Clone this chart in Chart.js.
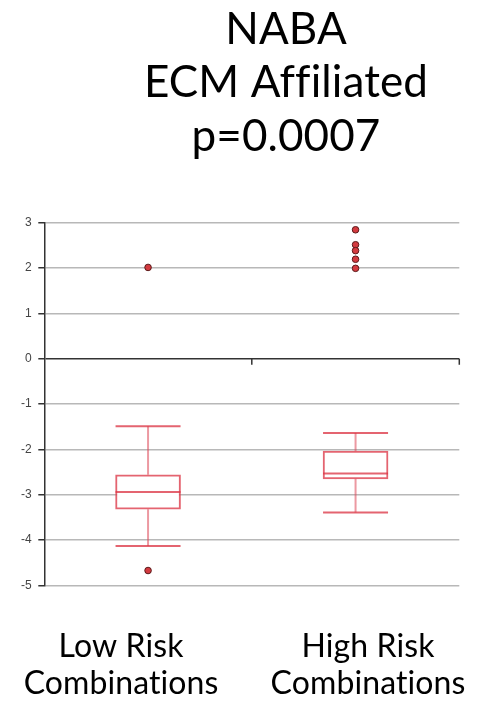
<!DOCTYPE html>
<html>
<head>
<meta charset="utf-8">
<script src="https://cdn.jsdelivr.net/npm/chart.js@4.4.1/dist/chart.umd.min.js"></script>
<style>
  html, body { margin: 0; padding: 0; background: #fff; }
  #wrap { width: 480px; height: 710px; }
</style>
</head>
<body>
<div id="wrap"><canvas id="chart"></canvas></div>
<script>
// data
const titleLines = ['NABA', 'ECM Affiliated', 'p=0.0007'];
const groupLabels = [['Low Risk', 'Combinations'], ['High Risk', 'Combinations']];
const groupPos = [0.5, 1.5];
const whiskerLow = [-4.13, -3.39];
const q1 = [-3.32, -2.65];
const median = [-2.94, -2.53];
const q3 = [-2.56, -2.04];
const whiskerHigh = [-1.49, -1.64];
const outliersLow = [2.01, -4.67];
const outliersHigh = [2.84, 2.51, 2.38, 2.19, 1.99];
const yMin = -5;
const yMax = 3;

// layout bits (text boxes in the original sit a bit off the box centres)
const labelPos = [0.37, 1.56];
const titleCenter = 286;
const boxWidth = 65;

const outlierPoints = [
    ...outliersLow.map(v => ({ x: groupPos[0], y: v })),
    ...outliersHigh.map(v => ({ x: groupPos[1], y: v }))
];

// whiskers, caps, median and the category ticks on the zero line
const boxPlugin = {
    id: 'boxWhiskers',
    beforeDraw(chart) {
        // no ti / ffi ligatures, like the slide text
        chart.ctx.letterSpacing = '0.1px';
        chart.ctx.textRendering = 'optimizeSpeed';
    },
    afterLayout(chart) {
        // move the title block so its centre lands where the slide had it
        const t = chart.titleBlock;
        const shift = titleCenter - (t.left + t.right) / 2;
        t.left += shift;
        t.right += shift;
    },
    afterDatasetsDraw(chart) {
        const { ctx, scales: { x, y } } = chart;
        const half = boxWidth / 2;
        ctx.save();
        groupPos.forEach((g, i) => {
            const px = x.getPixelForValue(g);
            // stems
            ctx.strokeStyle = 'rgba(221, 70, 85, 0.55)';
            ctx.lineWidth = 2;
            ctx.beginPath();
            ctx.moveTo(px, y.getPixelForValue(q3[i]));
            ctx.lineTo(px, y.getPixelForValue(whiskerHigh[i]));
            ctx.moveTo(px, y.getPixelForValue(q1[i]));
            ctx.lineTo(px, y.getPixelForValue(whiskerLow[i]));
            ctx.stroke();
            // caps + median
            ctx.strokeStyle = 'rgba(221, 56, 72, 0.78)';
            ctx.beginPath();
            [whiskerHigh[i], whiskerLow[i], median[i]].forEach(v => {
                const py = y.getPixelForValue(v);
                ctx.moveTo(px - half, py);
                ctx.lineTo(px + half, py);
            });
            ctx.stroke();
        });
        // category separators hanging off the zero line
        const y0 = y.getPixelForValue(0);
        ctx.strokeStyle = '#333';
        ctx.lineWidth = 1.5;
        ctx.beginPath();
        [1, 2].forEach(v => {
            const px = x.getPixelForValue(v);
            ctx.moveTo(px, y0);
            ctx.lineTo(px, y0 + 6);
        });
        ctx.stroke();
        ctx.restore();
    }
};

const ctx = document.getElementById('chart').getContext('2d');
new Chart(ctx, {
    type: 'bar',
    data: {
        datasets: [
            {
                type: 'bar',
                data: groupPos.map((g, i) => ({ x: g, y: [q1[i], q3[i]] })),
                backgroundColor: '#ffffff',
                borderColor: 'rgba(221, 56, 72, 0.78)',
                borderWidth: 2,
                borderSkipped: false,
                barThickness: boxWidth
            },
            {
                type: 'scatter',
                data: outlierPoints,
                pointRadius: 3.3,
                pointBackgroundColor: '#d33a3f',
                pointBorderColor: '#5a1a1a',
                pointBorderWidth: 1
            }
        ]
    },
    options: {
        responsive: true,
        maintainAspectRatio: false,
        animation: false,
        layout: {
            padding: { left: 0, right: 20.7, top: 0, bottom: 7.3 }
        },
        plugins: {
            legend: { display: false },
            tooltip: { enabled: false },
            title: {
                display: true,
                text: titleLines,
                color: '#000',
                font: { family: 'Lato', size: 44, weight: 'normal', lineHeight: 1.216 },
                padding: { top: 3, bottom: 59 }
            }
        },
        scales: {
            x: {
                type: 'linear',
                min: 0,
                max: 2,
                offset: false,
                grid: { display: false, drawTicks: false },
                border: { display: false },
                afterBuildTicks: scale => {
                    scale.ticks = labelPos.map(v => ({ value: v }));
                },
                afterFit: scale => {
                    scale.height = 117.2;
                    scale.paddingLeft = 0;
                    scale.paddingRight = 0;
                },
                ticks: {
                    autoSkip: false,
                    maxRotation: 0,
                    padding: 42.9,
                    color: '#000',
                    font: { family: 'Lato', size: 32, lineHeight: 1.16 },
                    callback: (value, index) => groupLabels[index]
                }
            },
            y: {
                min: yMin,
                max: yMax,
                afterFit: scale => { scale.width = 44.3; },
                ticks: {
                    stepSize: 1,
                    padding: 6.5,
                    color: '#444',
                    font: { family: 'Liberation Sans', size: 12 }
                },
                grid: {
                    color: c => (c.tick && c.tick.value === 0 ? '#333' : '#b8b8b8'),
                    lineWidth: 1.5,
                    tickColor: '#333',
                    tickLength: 6
                },
                border: { color: '#333', width: 1.5 }
            }
        }
    },
    plugins: [boxPlugin]
});
</script>
</body>
</html>
